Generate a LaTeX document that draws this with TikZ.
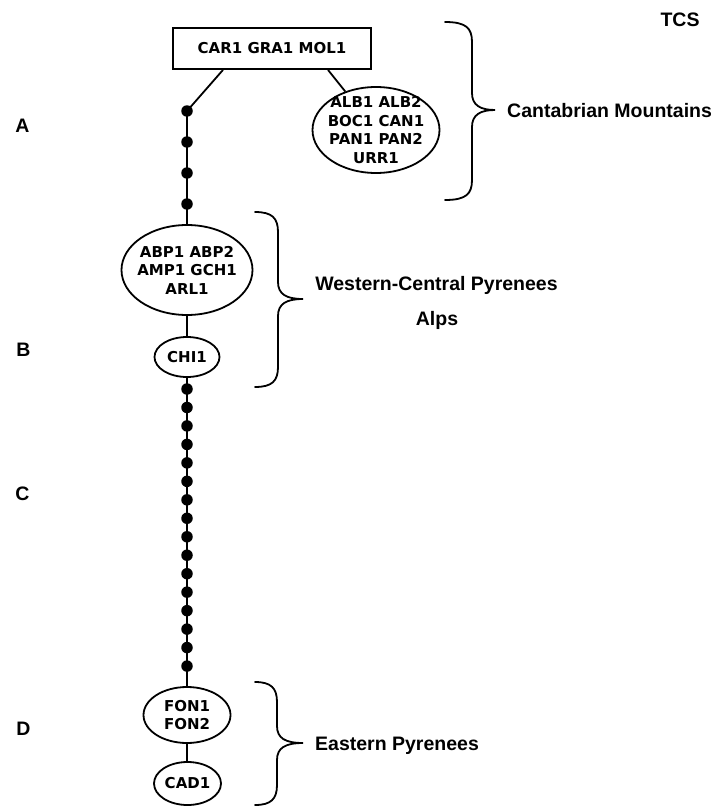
\documentclass[tikz,border=0pt]{standalone}
\usepackage{fontspec}
\setmainfont{Liberation Sans}
\newfontfamily\nodefont{DejaVu Sans}
\usetikzlibrary{shapes.geometric}
\begin{document}
\begin{tikzpicture}[x=1pt,y=-1pt,
  lw/.style={line width=1.8pt},
  nodetxt/.style={font=\nodefont\bfseries\fontsize{15}{18.5}\selectfont, align=center, inner sep=0pt},
  ell/.style={draw, lw, ellipse, inner sep=0pt},
  dotnode/.style={circle, fill=black, inner sep=0pt, minimum size=11.5pt},
  lbl/.style={font=\bfseries\fontsize{19.5}{22}\selectfont, inner sep=0pt, anchor=base},
  region/.style={font=\bfseries\fontsize{19.5}{22}\selectfont, inner sep=0pt, anchor=base west},
  bracestyle/.style={lw, line cap=round}
]
\useasboundingbox (0,0) rectangle (722,808);

% haplotype boxes
\node[draw, lw, rectangle, minimum width=198pt, minimum height=41pt, nodetxt] (car) at (272,48.5) {CAR1 GRA1 MOL1};
\node[ell, minimum width=127pt, minimum height=86pt, label={[nodetxt]center:ALB1 ALB2\\BOC1 CAN1\\PAN1 PAN2\\URR1}] (alb) at (376,130) {};
\node[ell, minimum width=131pt, minimum height=90pt, label={[nodetxt]center:ABP1 ABP2\\AMP1 GCH1\\ARL1}] (abp) at (187,270) {};
\node[ell, minimum width=65pt, minimum height=40pt, label={[nodetxt]center:CHI1}] (chi) at (187,357) {};
\node[ell, minimum width=87pt, minimum height=56pt, label={[nodetxt]center:FON1\\FON2}] (fon) at (187,715) {};
\node[ell, minimum width=67pt, minimum height=43pt, label={[nodetxt]center:CAD1}] (cad) at (187.5,783.5) {};

% missing haplotypes (dots)
\foreach \i/\yy in {1/111,2/142,3/173,4/204}
  \node[dotnode] (t\i) at (187,\yy) {};
\foreach \i in {0,...,15}
  \node[dotnode] (m\i) at (187,389+\i*18.47) {};

% connectors
\draw[lw] ([xshift=-49pt]car.south) -- (t1.center);
\draw[lw] ([xshift=56pt]car.south) -- (alb);
\draw[lw] (t1.center) -- (abp.north);
\draw[lw] (abp.south) -- (chi.north);
\draw[lw] (chi.south) -- (fon.north);
\draw[lw] (fon.south) -- (cad.north -| fon.south);

% braces: end x, vertical x, tip x, top y, bottom y, middle y
\foreach \xa/\xb/\xc/\ya/\yb/\ym in {445/472/495/22/200/110, 255/278/303/212/387/299, 255/277/303/682/805/743}
  \draw[bracestyle] (\xa,\ya) .. controls (\xb-6,\ya) and (\xb,\ya+6) .. (\xb,\ya+20)
    -- (\xb,\ym-17) .. controls (\xb,\ym-5) and (\xb+8,\ym) .. (\xc,\ym)
    .. controls (\xb+8,\ym) and (\xb,\ym+5) .. (\xb,\ym+17)
    -- (\xb,\yb-20) .. controls (\xb,\yb-6) and (\xb-6,\yb) .. (\xa,\yb);

% region labels
\node[region] (cant) at (507,117) {Cantabrian Mountains};
\node[region, anchor=base] (west) at (436.5,290) {Western-Central Pyrenees};
\node[region, anchor=base] (alps) at (437,325) {Alps};
\node[region] (east) at (315,750) {Eastern Pyrenees};

% letters
\node[lbl] (tcs) at (680,26.5) {TCS};
\node[lbl] (la) at (22.5,132) {A};
\node[lbl] (lb) at (23.5,356.5) {B};
\node[lbl] (lc) at (22.5,500.3) {C};
\node[lbl] (ld) at (23.5,735.5) {D};
\end{tikzpicture}
\end{document}
